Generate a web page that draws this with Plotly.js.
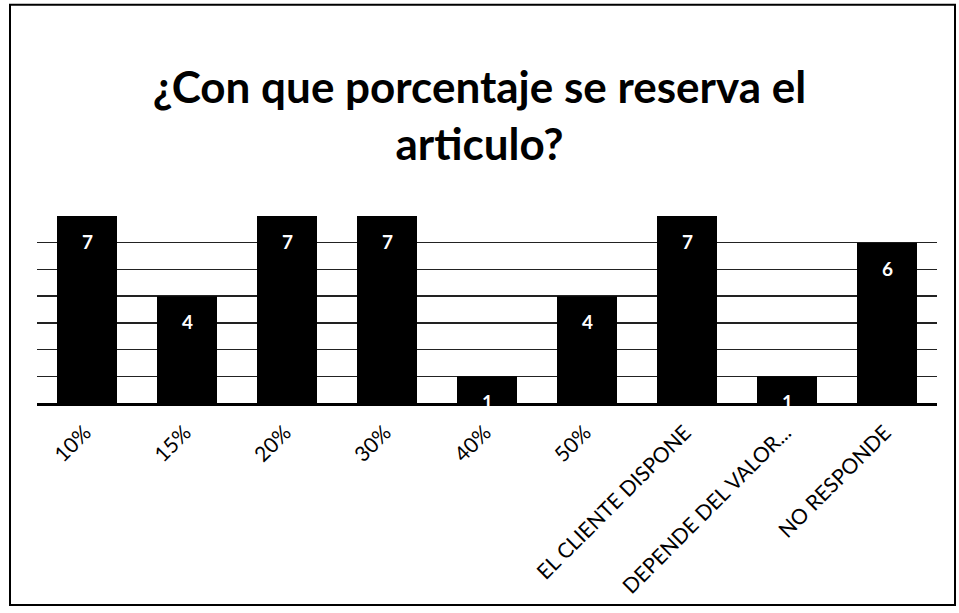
<!DOCTYPE html>
<html>
<head>
<meta charset="utf-8">
<script src="https://cdn.plot.ly/plotly-3.0.1.min.js"></script>
<style>
html,body{margin:0;padding:0;background:#fff;}
#chart{width:959px;height:613px;}
</style>
</head>
<body>
<div id="chart"></div>
<script>
const categories = ["10%", "15%", "20%", "30%", "40%", "50%", "EL CLIENTE DISPONE", "DEPENDE DEL VALOR...", "NO RESPONDE"];
const values = [7, 4, 7, 7, 1, 4, 7, 1, 6];
const titleText = "¿Con que porcentaje se reserva el<br>articulo?";

const FONT = "Lato, 'Open Sans', sans-serif";

const trace = {
  type: "bar",
  x: categories,
  y: values,
  marker: {color: "#000000", line: {width: 0}},
  hoverinfo: "x+y"
};

const labelAnnotations = categories.map((c, i) => ({
  x: c,
  y: values[i],
  xref: "x",
  yref: "y",
  text: String(values[i]),
  showarrow: false,
  yanchor: "top",
  yshift: -12,
  font: {family: FONT, size: 19, color: "#ffffff", weight: "bold"}
}));

const layout = {
  width: 959,
  height: 613,
  paper_bgcolor: "#ffffff",
  plot_bgcolor: "#ffffff",
  margin: {l: 37, r: 22, t: 216, b: 210},
  title: {
    text: titleText,
    font: {family: FONT, size: 44, color: "#000000", weight: "bold"},
    x: 0.5,
    xanchor: "center",
    yref: "container",
    y: 0.832,
    yanchor: "top"
  },
  bargap: 0.4,
  showlegend: false,
  xaxis: {
    type: "category",
    tickangle: -45,
    tickfont: {family: FONT, size: 21, color: "#000000"},
    ticklabelstandoff: 6,
    ticklabelshift: -2,
    showgrid: false,
    showline: true,
    linecolor: "#000000",
    linewidth: 3,
    ticks: "",
    fixedrange: true
  },
  yaxis: {
    range: [0, 7],
    dtick: 1,
    showticklabels: false,
    showgrid: true,
    gridcolor: "#222222",
    gridwidth: 1.5,
    zeroline: false,
    showline: false,
    ticks: "",
    fixedrange: true
  },
  annotations: labelAnnotations,
  shapes: [
    {type: "rect", xref: "paper", yref: "paper", x0: -0.03, x1: 1.02, y0: -1.08, y1: 2.13,
     line: {color: "#000000", width: 2}, fillcolor: "rgba(0,0,0,0)"}
  ]
};

Plotly.newPlot("chart", [trace], layout, {displayModeBar: false, staticPlot: true});
</script>
</body>
</html>
